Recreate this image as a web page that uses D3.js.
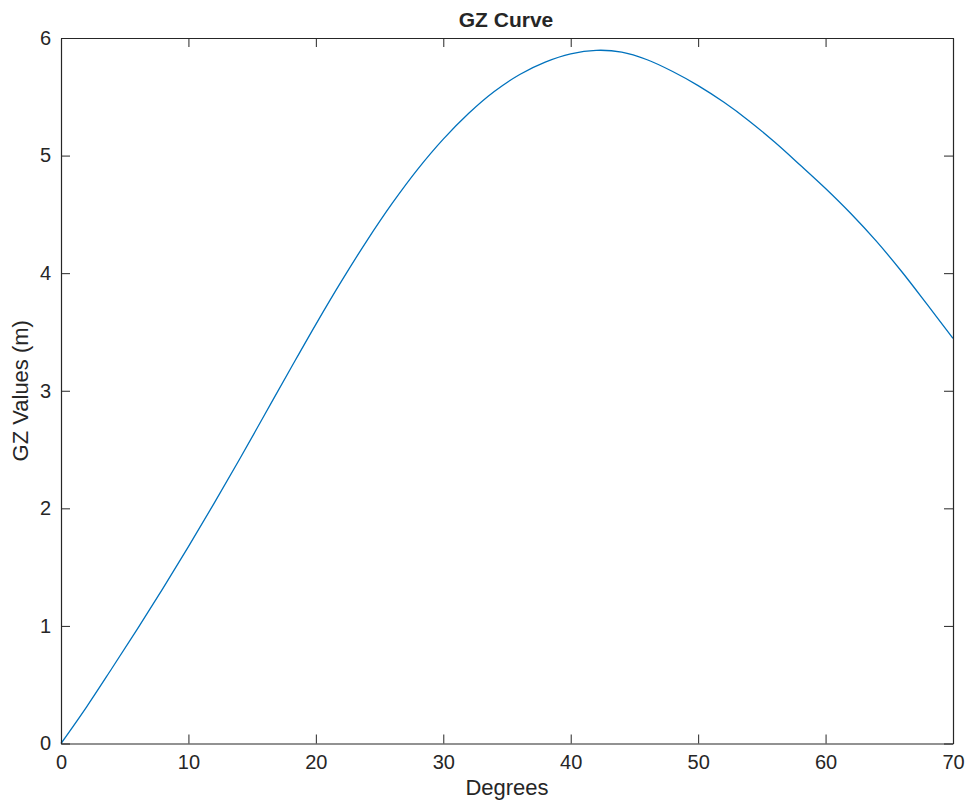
<!DOCTYPE html>
<html>
<head>
<meta charset="utf-8">
<script src="https://cdn.jsdelivr.net/npm/d3@7"></script>
<style>
  html, body { margin: 0; padding: 0; background: #fff; }
  svg { display: block; }
  text { font-family: "Liberation Sans", Arial, Helvetica, sans-serif; fill: #262626; }
</style>
</head>
<body>
<svg id="chart" width="969" height="804"></svg>
<script>
// Heel angle (degrees) and righting lever GZ (m)
const degrees = [0, 2, 4, 6, 8, 10, 12, 14, 16, 18, 20, 22, 24, 26, 28, 30, 32, 34, 36,
                 38, 40, 42, 44, 46, 48, 50, 52, 54, 56, 58, 60, 62, 64, 66, 68, 70];
const gzValues = [0, 0.31, 0.64, 0.975, 1.32, 1.675, 2.04, 2.415, 2.80, 3.185, 3.565, 3.93,
                  4.275, 4.595, 4.885, 5.14, 5.36, 5.545, 5.69, 5.795, 5.865, 5.895,
                  5.88, 5.815, 5.715, 5.595, 5.455, 5.295, 5.115, 4.92, 4.72, 4.505,
                  4.27, 4.01, 3.73, 3.445];
const xTicks = [0, 10, 20, 30, 40, 50, 60, 70];
const yTicks = [0, 1, 2, 3, 4, 5, 6];

const svg = d3.select("#chart");
const plotLeft = 61, plotRight = 953, plotTop = 38, plotBottom = 743.5;
const axisColor = "#262626";
const tickLen = 9;

const x = d3.scaleLinear().domain([0, 70]).range([plotLeft, plotRight]);
const y = d3.scaleLinear().domain([0, 6]).range([plotBottom, plotTop]);

// Curve
const line = d3.line()
  .x((d, i) => x(degrees[i]))
  .y(d => y(d))
  .curve(d3.curveCatmullRom.alpha(0.5));

svg.append("path")
  .datum(gzValues)
  .attr("d", line)
  .attr("fill", "none")
  .attr("stroke", "#0072BD")
  .attr("stroke-width", 1.3);

// Axes (ticks point inward, box on all four sides)
const fs = "20px";
const fmt = d3.format("d");
svg.append("g")
  .attr("transform", `translate(0,${plotBottom})`)
  .call(d3.axisBottom(x).tickValues(xTicks).tickFormat(fmt).tickSizeInner(-tickLen).tickSizeOuter(0).tickPadding(11))
  .call(g => g.selectAll("text").style("font-size", fs).attr("fill", axisColor));

svg.append("g")
  .attr("transform", `translate(0,${plotTop})`)
  .call(d3.axisTop(x).tickValues(xTicks).tickSizeInner(-tickLen).tickSizeOuter(0).tickFormat(""));

svg.append("g")
  .attr("transform", `translate(${plotLeft},0)`)
  .call(d3.axisLeft(y).tickValues(yTicks).tickFormat(fmt).tickSizeInner(-tickLen).tickSizeOuter(0).tickPadding(10))
  .call(g => g.selectAll("text").style("font-size", fs).attr("fill", axisColor));

svg.append("g")
  .attr("transform", `translate(${plotRight},0)`)
  .call(d3.axisRight(y).tickValues(yTicks).tickSizeInner(-tickLen).tickSizeOuter(0).tickFormat(""));

svg.selectAll(".domain").attr("stroke", axisColor).attr("stroke-width", 1.2);
svg.selectAll(".tick line").attr("stroke", axisColor).attr("stroke-width", 1);

// Labels
svg.append("text")
  .attr("x", 506).attr("y", 26.5)
  .attr("text-anchor", "middle")
  .style("font-size", "21px").style("font-weight", "bold")
  .attr("fill", "#000")
  .text("GZ Curve");

svg.append("text")
  .attr("x", (plotLeft + plotRight) / 2).attr("y", 795)
  .attr("text-anchor", "middle")
  .style("font-size", "22px")
  .text("Degrees");

svg.append("text")
  .attr("transform", `translate(28,${(plotTop + plotBottom) / 2}) rotate(-90)`)
  .attr("text-anchor", "middle")
  .style("font-size", "22px")
  .text("GZ Values (m)");
</script>
</body>
</html>
